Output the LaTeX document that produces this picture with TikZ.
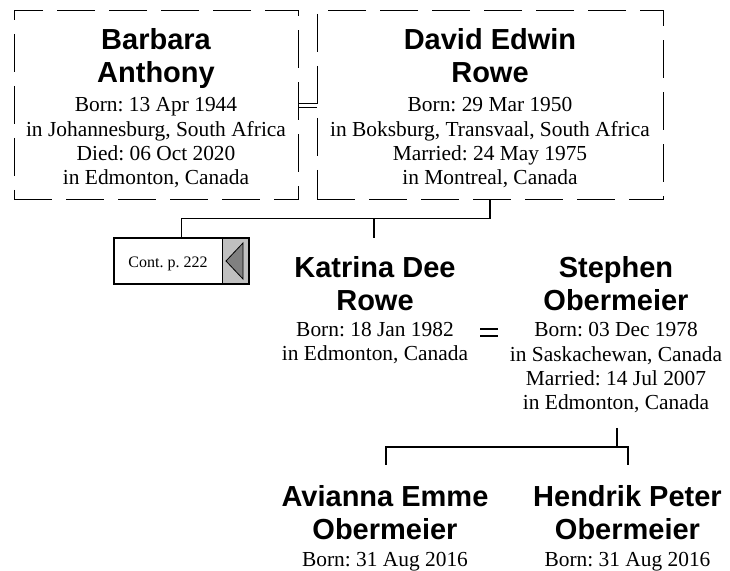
\documentclass[tikz,border=0pt]{standalone}
\usepackage{fontspec}
\setmainfont{Liberation Serif}
\setsansfont{Liberation Sans}
\usepackage{tikz}
\frenchspacing
\definecolor{contgray}{RGB}{192,192,192}
\definecolor{tipgray}{RGB}{128,128,128}
\tikzset{
  namelbl/.style={font=\sffamily\bfseries\fontsize{14.5}{16.5}\selectfont,align=center,inner sep=0pt,anchor=base},
  infolbl/.style={font=\fontsize{10.7}{12.2}\selectfont,align=center,inner sep=0pt,anchor=base},
  personbox/.style={draw,dash pattern=on 19pt off 7pt,line width=0.5pt,inner sep=0pt},
  famline/.style={line width=0.9pt},
  spouseline/.style={double,double distance=1.25pt,line width=0.5pt}
}

\begin{document}
\begin{tikzpicture}[x=0.5pt,y=-0.5pt]
  \useasboundingbox (0,0) rectangle (730,571);
  % parents
  \node[personbox,minimum width=142pt,minimum height=94.5pt] (barbarabox) at (156,105.5) {};
  \node[personbox,minimum width=173pt,minimum height=94.5pt] (davidbox) at (490,105.5) {};
  \node[namelbl] (barbara) at (156,83) {Barbara\\Anthony};
  \node[infolbl] (barbarainfo) at (156,185) {Born: 13 Apr 1944\\in Johannesburg, South Africa\\Died: 06 Oct 2020\\in Edmonton, Canada};
  \node[namelbl] (david) at (490,83) {David Edwin\\Rowe};
  \node[infolbl] (davidinfo) at (490,185) {Born: 29 Mar 1950\\in Boksburg, Transvaal, South Africa\\Married: 24 May 1975\\in Montreal, Canada};
  \draw[spouseline] (barbarabox.east) -- (davidbox.west);
  % continuation box
  \fill[contgray] (222,238) rectangle (249,284);
  \draw[line width=0.5pt] (222,238) -- (222,284);
  \node[draw,line width=1pt,minimum width=67.5pt,minimum height=23pt,inner sep=0pt] (cont) at (181.5,261) {};
  \node[font=\fontsize{8}{9}\selectfont,anchor=base] (contlbl) at (168,268) {Cont. p. 222};
  \filldraw[fill=tipgray,line width=0.4pt] (226,261) -- (243,243) -- (243,279) -- cycle;
  \draw[famline] (davidbox.south) -- ++(0,18) coordinate (fam1) -| (cont.north);
  \coordinate (katrinatop) at (374,238);
  \draw[famline] (katrinatop) -- (katrinatop |- fam1);
  % second couple
  \node[namelbl] (katrina) at (375,311) {Katrina Dee\\Rowe};
  \node[infolbl] (katrinainfo) at (375,361) {Born: 18 Jan 1982\\in Edmonton, Canada};
  \node[namelbl] (stephen) at (616,311) {Stephen\\Obermeier};
  \node[infolbl] (stepheninfo) at (616,410) {Born: 03 Dec 1978\\in Saskachewan, Canada\\Married: 14 Jul 2007\\in Edmonton, Canada};
  \coordinate (wedl) at (480,332.5);
  \coordinate (wedr) at (498,332.5);
  \draw[double,double distance=2.9pt,line width=0.6pt] (wedl) -- (wedr);
  % children
  \coordinate (stephenbot) at (617,428);
  \draw[famline] (stephenbot) -- ++(0,19) coordinate (fam2);
  \coordinate (aviannatop) at (386,465);
  \coordinate (hendriktop) at (628,465);
  \draw[famline] (aviannatop) |- (fam2) -| (hendriktop);
  \foreach \who/\x/\first in {avianna/385/Avianna Emme,hendrik/627.5/Hendrik Peter}{
    \node[namelbl] (\who) at (\x,540) {\first\\Obermeier};
    \node[infolbl] (\who info) at (\x,567) {Born: 31 Aug 2016};}
\end{tikzpicture}
\end{document}
